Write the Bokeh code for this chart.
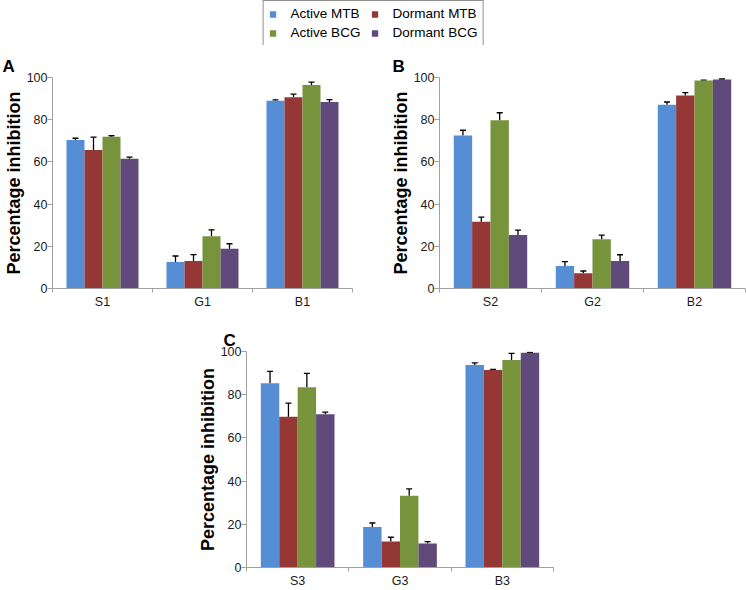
from bokeh.plotting import figure
from bokeh.layouts import column, row
from bokeh.models import (ColumnDataSource, Range1d, FixedTicker, Whisker, TeeHead,
                          Legend, LegendItem, Spacer)
from bokeh.transform import dodge
from bokeh.embed import file_html
from bokeh.resources import INLINE

FONT = "Liberation Sans"

series = ["Active MTB", "Dormant MTB", "Active BCG", "Dormant BCG"]
colors = ["#558ED5", "#953735", "#77933C", "#604A7B"]

# Panel A
cats_a = ["S1", "G1", "B1"]
active_mtb_a = [70.4, 12.6, 89.0]
dormant_mtb_a = [65.6, 13.0, 90.6]
active_bcg_a = [71.9, 24.8, 96.5]
dormant_bcg_a = [61.5, 18.8, 88.4]
active_mtb_a_err = [0.8, 2.8, 0.4]
dormant_mtb_a_err = [6.1, 3.1, 1.5]
active_bcg_a_err = [0.5, 3.0, 1.3]
dormant_bcg_a_err = [0.8, 2.4, 1.1]

# Panel B
cats_b = ["S2", "G2", "B2"]
active_mtb_b = [72.5, 10.7, 87.1]
dormant_mtb_b = [31.6, 7.2, 91.5]
active_bcg_b = [79.7, 23.3, 98.6]
dormant_bcg_b = [25.3, 13.0, 99.1]
active_mtb_b_err = [2.5, 2.0, 1.3]
dormant_mtb_b_err = [2.2, 1.1, 1.3]
active_bcg_b_err = [3.6, 2.0, 0.2]
dormant_bcg_b_err = [2.4, 3.0, 0.2]

# Panel C
cats_c = ["S3", "G3", "B3"]
active_mtb_c = [85.3, 18.8, 93.8]
dormant_mtb_c = [69.8, 12.0, 91.4]
active_bcg_c = [83.5, 33.2, 96.1]
dormant_bcg_c = [71.0, 11.1, 99.4]
active_mtb_c_err = [5.5, 1.8, 0.9]
dormant_mtb_c_err = [6.3, 2.0, 0.3]
active_bcg_c_err = [6.4, 3.2, 3.0]
dormant_bcg_c_err = [0.9, 0.9, 0.2]

y_ticks = [0, 20, 40, 60, 80, 100]

AXIS_GRAY = "#a0a0a0"
TEXT_COL = "#1a1a1a"
BAR_W = 0.18
OFFSETS = [-0.27, -0.09, 0.09, 0.27]


def make_panel(letter, cats, vals, errs, width, height, mb_left, mb_right,
               mb_top, mb_bottom, title_offset):
    n = len(cats)
    p = figure(width=width, height=height,
               x_range=Range1d(0, n), y_range=Range1d(0, 100),
               output_backend="svg", toolbar_location=None,
               min_border_left=mb_left, min_border_right=mb_right,
               min_border_top=mb_top, min_border_bottom=mb_bottom)
    p.outline_line_color = None
    p.grid.grid_line_color = None
    p.background_fill_color = "white"
    p.border_fill_color = "white"

    p.title.text = letter
    p.title.text_font = FONT
    p.title.text_font_size = "17px"
    p.title.text_font_style = "bold"
    p.title.text_color = "black"
    p.title.align = "left"
    p.title.offset = title_offset
    p.title.standoff = 3

    centers = [i + 0.5 for i in range(n)]
    for k in range(4):
        src = ColumnDataSource(dict(xc=centers, val=vals[k],
                                    up=[v + e for v, e in zip(vals[k], errs[k])]))
        p.vbar(x=dodge("xc", OFFSETS[k], range=p.x_range), top="val", bottom=0,
               width=BAR_W, source=src, fill_color=colors[k], line_color=None)
        w = Whisker(base=dodge("xc", OFFSETS[k], range=p.x_range), lower="val", upper="up",
                    source=src, line_color="black", line_width=1.3,
                    upper_head=TeeHead(size=6, line_color="black", line_width=1.3),
                    lower_head=None)
        p.add_layout(w)

    xa = p.xaxis[0]
    xa.ticker = FixedTicker(ticks=centers, minor_ticks=list(range(n + 1)))
    xa.major_label_overrides = {c: lab for c, lab in zip(centers, cats)}
    xa.axis_line_color = AXIS_GRAY
    xa.major_tick_line_color = None
    xa.major_tick_out = 0
    xa.major_tick_in = 0
    xa.minor_tick_line_color = AXIS_GRAY
    xa.minor_tick_out = 4
    xa.minor_tick_in = 0
    xa.major_label_text_font = FONT
    xa.major_label_text_font_size = "12.5px"
    xa.major_label_text_color = TEXT_COL
    xa.major_label_standoff = 2

    ya = p.yaxis[0]
    ya.ticker = FixedTicker(ticks=y_ticks)
    ya.axis_line_color = AXIS_GRAY
    ya.major_tick_line_color = AXIS_GRAY
    ya.major_tick_out = 5
    ya.major_tick_in = 0
    ya.minor_tick_line_color = None
    ya.major_label_text_font = FONT
    ya.major_label_text_font_size = "12.5px"
    ya.major_label_text_color = TEXT_COL
    ya.major_label_standoff = 0
    ya.axis_label = "Percentage inhibition"
    ya.axis_label_text_font = FONT
    ya.axis_label_text_font_size = "18px"
    ya.axis_label_text_font_style = "bold"
    ya.axis_label_text_color = "black"
    ya.axis_label_standoff = 0
    return p


vals_a = [active_mtb_a, dormant_mtb_a, active_bcg_a, dormant_bcg_a]
errs_a = [active_mtb_a_err, dormant_mtb_a_err, active_bcg_a_err, dormant_bcg_a_err]
vals_b = [active_mtb_b, dormant_mtb_b, active_bcg_b, dormant_bcg_b]
errs_b = [active_mtb_b_err, dormant_mtb_b_err, active_bcg_b_err, dormant_bcg_b_err]
vals_c = [active_mtb_c, dormant_mtb_c, active_bcg_c, dormant_bcg_c]
errs_c = [active_mtb_c_err, dormant_mtb_c_err, active_bcg_c_err, dormant_bcg_c_err]

pa = make_panel("A", cats_a, vals_a, errs_a, width=370, height=266,
                mb_left=0, mb_right=18, mb_top=32, mb_bottom=22, title_offset=-50)
pb = make_panel("B", cats_b, vals_b, errs_b, width=376, height=266,
                mb_left=69, mb_right=1, mb_top=32, mb_bottom=22, title_offset=-47)
pc = make_panel("C", cats_c, vals_c, errs_c, width=365, height=279,
                mb_left=56, mb_right=2, mb_top=40, mb_bottom=21, title_offset=-23)

# Legend figure (legend swatches come from renderers kept out of view)
pl = figure(width=746, height=45, x_range=Range1d(0, 3), y_range=Range1d(1000, 1001),
            output_backend="svg", toolbar_location=None,
            x_axis_type=None, y_axis_type=None,
            min_border_left=0, min_border_right=0, min_border_top=0, min_border_bottom=0)
pl.outline_line_color = None
pl.grid.grid_line_color = None
items = []
centers_a = [i + 0.5 for i in range(len(cats_a))]
for name, col, v in zip(series, colors, vals_a):
    src = ColumnDataSource(dict(xc=centers_a, val=v))
    r = pl.vbar(x="xc", top="val", bottom=0, width=BAR_W, source=src,
                fill_color=col, line_color=None)
    items.append(LegendItem(label=name, renderers=[r]))
leg = Legend(items=items, location="top_center", orientation="horizontal", ncols=2)
leg.label_text_font = FONT
leg.label_text_font_size = "13.5px"
leg.label_text_color = "black"
leg.glyph_width = 8
leg.glyph_height = 8
leg.label_standoff = 14
leg.label_width = 76
leg.label_height = 14
leg.spacing = 4
leg.padding = 5
leg.margin = 0
leg.border_line_color = "#222222"
leg.border_line_width = 1
leg.background_fill_color = "white"
pl.add_layout(leg, "center")

layout = column(pl, row(pa, pb), row(Spacer(width=190, height=279), pc))

open("out.html", "w").write(file_html(layout, INLINE))
